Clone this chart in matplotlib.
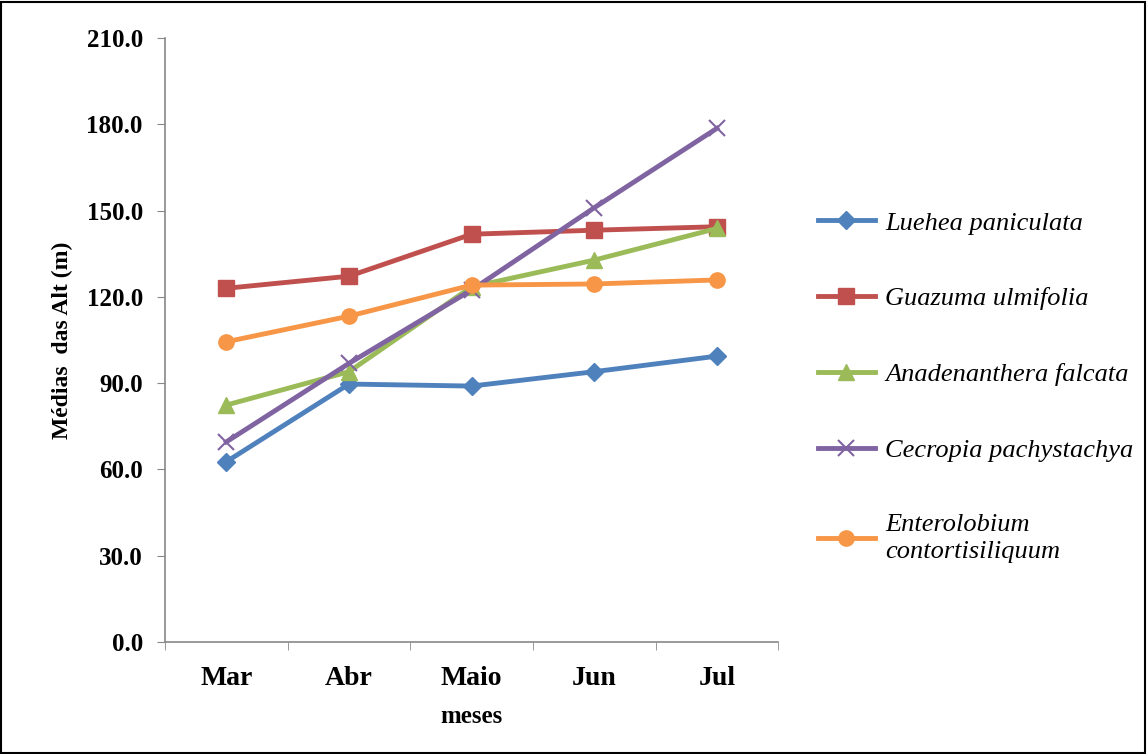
# Monthly mean heights of five tree species

import matplotlib.pyplot as plt
import numpy as np

months = ["Mar", "Abr", "Maio", "Jun", "Jul"]

luehea = [62.7, 89.7, 89.0, 94.0, 99.4]
guazuma = [123.0, 127.2, 141.8, 143.2, 144.4]
anadenanthera = [82.4, 94.0, 123.5, 132.8, 143.8]
cecropia = [69.6, 96.9, 122.4, 151.0, 178.6]
enterolobium = [104.4, 113.3, 124.1, 124.5, 125.9]

species = ["Luehea paniculata", "Guazuma ulmifolia", "Anadenanthera falcata",
           "Cecropia pachystachya", "Enterolobium\ncontortisiliquum"]
series = [luehea, guazuma, anadenanthera, cecropia, enterolobium]
colors = ["#4F81BD", "#C0504D", "#9BBB59", "#8064A2", "#F79646"]
markers = ["D", "s", "^", "x", "o"]
msizes = [9, 11, 11, 12, 11]

plt.rcParams['font.family'] = ['Liberation Serif', 'DejaVu Serif']

fig = plt.figure(figsize=(11.47, 7.54), dpi=100)
ax = fig.add_axes([0.1439, 0.1485, 0.5345, 0.801])

x = np.arange(len(months))
for vals, name, c, m, ms in zip(series, species, colors, markers, msizes):
    ax.plot(x, vals, color=c, lw=3.5, marker=m, markersize=ms,
            markeredgewidth=1.5 if m == "x" else 1, markeredgecolor=c, label=name)

ax.set_ylim(0, 210)
ax.set_yticks(np.arange(0, 211, 30))
ax.set_yticklabels([f"{v:.1f}" for v in np.arange(0, 211, 30)],
                   fontsize=18, fontweight="bold")
ax.set_xlim(-0.5, len(months) - 0.5)
ax.set_xticks(x)
ax.set_xticklabels(months, fontsize=20, fontweight="bold")
ax.set_xticks(np.arange(-0.5, len(months)), minor=True)
ax.tick_params(axis="x", which="major", length=0, pad=17)
ax.tick_params(axis="x", which="minor", length=6, color="#888888")
ax.tick_params(axis="y", length=6, color="#888888", pad=10)

for side in ["top", "right"]:
    ax.spines[side].set_visible(False)
for side in ["left", "bottom"]:
    ax.spines[side].set_color("#888888")
    ax.spines[side].set_linewidth(1.2)

ax.set_xlabel("meses", fontsize=18, fontweight="bold", labelpad=10)
ax.set_ylabel("Médias  das Alt (m)", fontsize=17, fontweight="bold", labelpad=10)

leg = fig.legend(loc="upper left", bbox_to_anchor=(0.713, 0.72), frameon=False,
                 prop={"size": 19, "style": "italic"}, labelspacing=1.98,
                 handlelength=2.15, handletextpad=0.4, borderpad=0, borderaxespad=0)
leg.get_texts()[-1].set_linespacing(1.3)

# black frame around the whole figure
fig.patches.append(plt.Rectangle((0.001, 0.001), 0.997, 0.997, transform=fig.transFigure,
                                 fill=False, edgecolor="black", lw=1.5))

fig.savefig("out.png", dpi=100)
